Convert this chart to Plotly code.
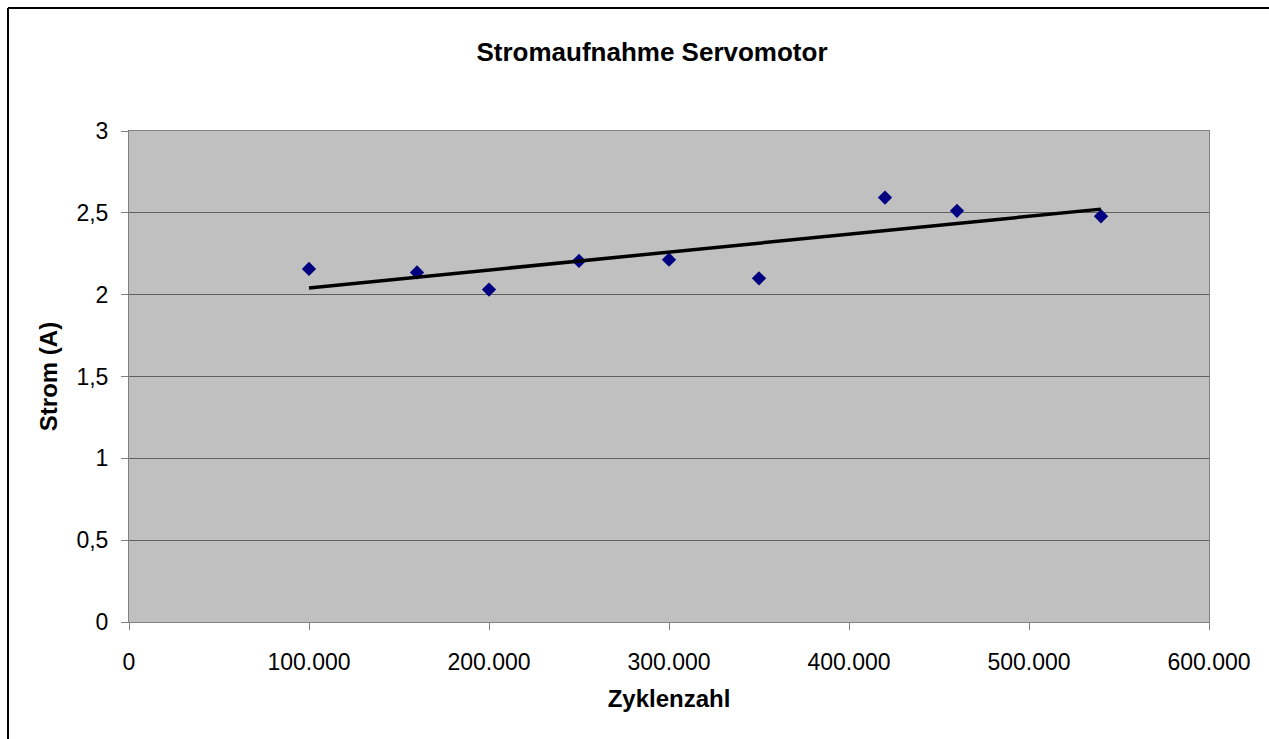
import numpy as np
import plotly.graph_objects as go

# Data
zyklen = [100000, 160000, 200000, 250000, 300000, 350000, 420000, 460000, 540000]
strom = [2.157, 2.136, 2.031, 2.206, 2.214, 2.100, 2.593, 2.512, 2.479]

x_ticks = [0, 100000, 200000, 300000, 400000, 500000, 600000]
y_ticks = [0, 0.5, 1, 1.5, 2, 2.5, 3]

# Linear trend line (least squares through the data)
slope, intercept = np.polyfit(zyklen, strom, 1)
trend_x = [min(zyklen), max(zyklen)]
trend_y = [slope * v + intercept for v in trend_x]

W, H = 1269, 739
L, T = 129, 131
pw, ph = 1080, 491
R, B = W - L - pw, H - T - ph

fig = go.Figure()
fig.add_trace(go.Scatter(x=zyklen, y=strom, mode="markers",
                         marker=dict(symbol="diamond", size=11, color="#000080"),
                         showlegend=False))
fig.add_trace(go.Scatter(x=trend_x, y=trend_y, mode="lines",
                         line=dict(color="black", width=3.5), showlegend=False))

font_family = "Liberation Sans, Arial, sans-serif"

# outer chart frame: only its top and left edges are inside the picture
bx0, by1 = (8 - L) / pw, (ph + T - 8) / ph
bx1, by0 = (W + 20 - L) / pw, -(B + 20) / ph
frame = [
    dict(type="line", xref="paper", yref="paper", x0=bx0, x1=bx1, y0=by1, y1=by1,
         line=dict(color="black", width=2), layer="below"),
    dict(type="line", xref="paper", yref="paper", x0=bx0, x1=bx0, y0=by0, y1=by1,
         line=dict(color="black", width=2), layer="below"),
]

fig.update_layout(
    width=W, height=H,
    margin=dict(l=L, r=R, t=T, b=B),
    paper_bgcolor="white",
    plot_bgcolor="#C0C0C0",
    separators=",.",
    font=dict(family=font_family, size=23, color="black"),
    title=dict(text="<b>Stromaufnahme Servomotor</b>", x=652 / W, xanchor="center",
               y=1 - 52 / H, yanchor="middle", font=dict(size=26, family=font_family)),
    xaxis=dict(range=[0, 600000], tickvals=x_ticks, tickformat=",d",
               showgrid=False, zeroline=False, showline=True, linecolor="#808080",
               linewidth=1, mirror=True, ticks="outside", ticklen=7, tickcolor="#808080",
               ticklabelstandoff=12,
               title=dict(text="<b>Zyklenzahl</b>", font=dict(size=24), standoff=16)),
    yaxis=dict(range=[0, 3], tickvals=y_ticks, showgrid=True, gridcolor="#606060",
               gridwidth=1, zeroline=False, showline=True, linecolor="#808080",
               linewidth=1, mirror=True, ticks="outside", ticklen=7, tickcolor="#808080",
               ticklabelstandoff=8,
               title=dict(text="<b>Strom (A)</b>", font=dict(size=24), standoff=12)),
    shapes=frame,
)

fig.write_html(
    "out.html",
    config={"displayModeBar": False},
    post_script="document.body.style.margin='0';document.body.style.overflow='hidden';",
)
